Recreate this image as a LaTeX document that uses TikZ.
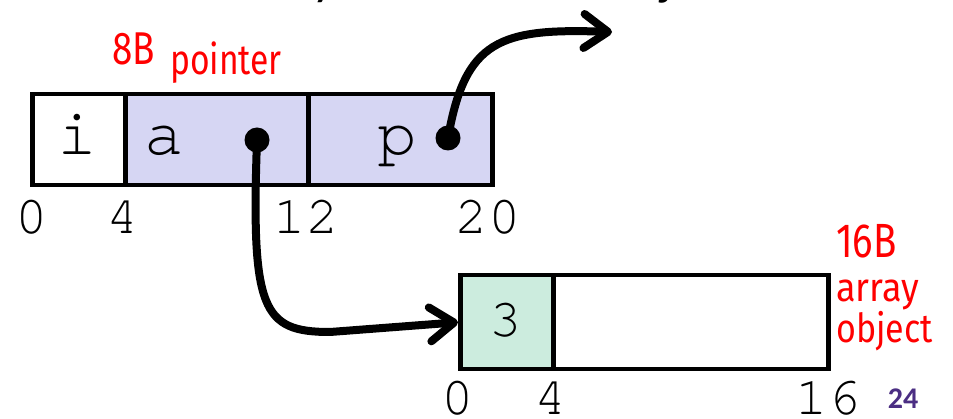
\documentclass[tikz,border=0pt]{standalone}
\usepackage{fontspec}
\setmainfont{Carlito}
\newfontfamily\monofont{TeX Gyre Cursor}
\newfontfamily\handfont{Fira Sans}
\usetikzlibrary{arrows.meta}
\definecolor{lav}{RGB}{214,214,243}
\definecolor{mint}{RGB}{204,236,222}
\definecolor{hand}{RGB}{255,0,0}
\definecolor{uwpurple}{RGB}{75,46,131}
\tikzset{
  cellbox/.style={draw=black,line width=4.5pt},
  lettertext/.style={font=\monofont\fontsize{66}{66}\selectfont,anchor=base,inner sep=0pt},
  numtext/.style={font=\monofont\fontsize{54}{54}\selectfont,anchor=base,inner sep=0pt},
  handtext/.style={text=hand,font=\handfont,anchor=base west,inner sep=0pt},
  ptrdot/.style={circle,fill=black,inner sep=0pt,minimum size=25pt},
  ptrarrow/.style={line width=8pt,-{Straight Barb[length=24pt,width=34pt,round]}},
}
\begin{document}
\begin{tikzpicture}[x=1pt,y=-1pt]
\clip (0,0) rectangle (953,419);
\fill[white] (0,0) rectangle (953,419);
% cut-off title
\node[anchor=base west,inner sep=0pt,font=\fontsize{51}{51}\selectfont] (title) at (106,-5) {a stored by reference in object};
% top struct
\fill[lav] (123,92) rectangle (490,183);
\node[cellbox,minimum width=93pt,minimum height=91pt,inner sep=0pt,anchor=north west] (ci) at (30,92) {};
\node[cellbox,minimum width=183pt,minimum height=91pt,inner sep=0pt,anchor=north west] (ca) at (123,92) {};
\node[cellbox,minimum width=184pt,minimum height=91pt,inner sep=0pt,anchor=north west] (cp) at (306,92) {};
\node[lettertext] (ti) at (77,155) {i};
\node[lettertext] (ta) at (164,155) {a};
\node[lettertext] (tp) at (397,155) {p};
\node[ptrdot] (adot) at (257,140) {};
\node[ptrdot] (pdot) at (448,138) {};
\node[numtext] (n0) at (32,234) {0};
\node[numtext] (n4) at (123,234) {4};
\node[numtext] (n12) at (306,234) {12};
\node[numtext] (n20) at (488,234) {20};
% array object
\fill[mint] (458,273) rectangle (551,367);
\node[cellbox,minimum width=93pt,minimum height=94pt,inner sep=0pt,anchor=north west] (c3) at (458,273) {};
\node[cellbox,minimum width=275pt,minimum height=94pt,inner sep=0pt,anchor=north west] (crest) at (551,273) {};
\node[numtext] (t3) at (506,337) {3};
\node[numtext] (m0) at (458,414) {0};
\node[numtext] (m4) at (551,414) {4};
\node[numtext] (m16) at (828,414) {16};
% red annotations
\node[handtext] (h8b) at (112,65) {\scalebox{0.8}[1]{\fontsize{46}{46}\selectfont 8B}};
\node[handtext] (hptr) at (170,75) {\scalebox{0.8}[1]{\fontsize{42}{42}\selectfont pointer}};
\node[handtext] (h16b) at (836,258) {\scalebox{0.8}[1]{\fontsize{48}{48}\selectfont 16B}};
\node[handtext] (harr) at (836,302) {\scalebox{0.9}[1]{\fontsize{40}{40}\selectfont array}};
\node[handtext] (hobj) at (836,343) {\scalebox{0.85}[1]{\fontsize{40}{40}\selectfont object}};
% slide number
\node[anchor=base,inner sep=0pt,text=uwpurple,font=\bfseries\fontsize{30}{30}\selectfont] (pg) at (903,408) {24};
% arrows
\coordinate (ptip) at (612,32);
\draw[ptrarrow] (adot.center) .. controls (251,310) and (262,332) .. (330,332) -- (c3.west);
\draw[ptrarrow] (pdot.center) .. controls (465,40) and (500,28) .. (ptip);
\end{tikzpicture}
\end{document}
